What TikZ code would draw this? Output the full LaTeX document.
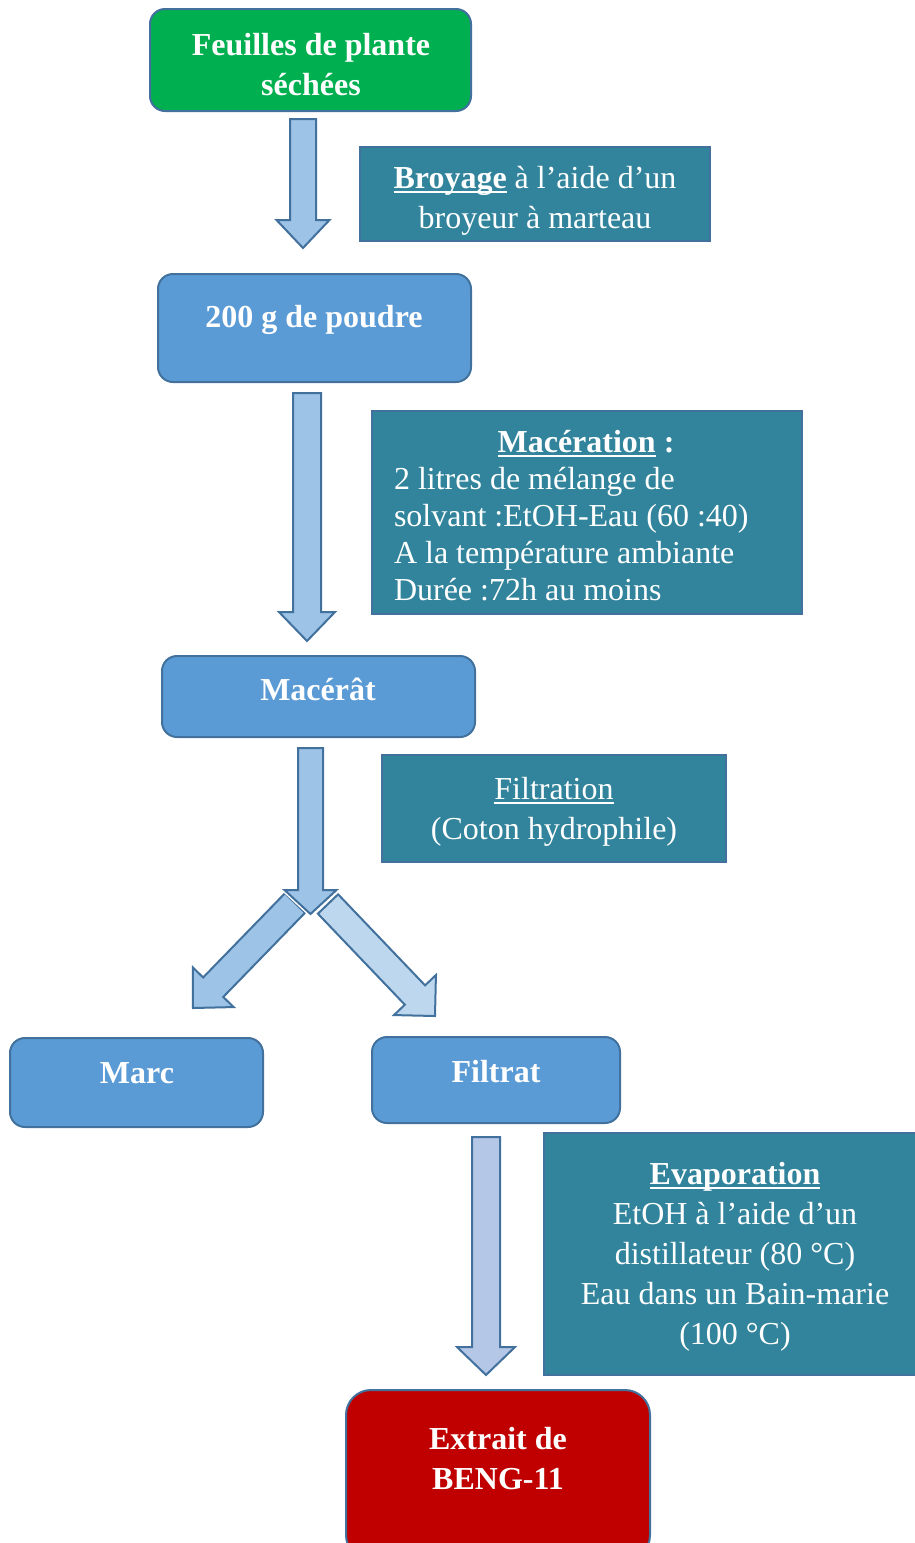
\documentclass[tikz,border=0pt]{standalone}
\usepackage{fontspec}
\setmainfont{Liberation Serif}
\usetikzlibrary{calc}
\definecolor{cgreen}{HTML}{00B050}
\definecolor{cborder}{HTML}{41719C}
\definecolor{cblue}{HTML}{5B9BD5}
\definecolor{cteal}{HTML}{31849B}
\definecolor{carrow}{HTML}{9DC3E6}
\definecolor{carrowlight}{HTML}{BDD7EE}
\definecolor{carrowlast}{HTML}{B4C7E7}
\definecolor{cred}{HTML}{C00000}
\newsavebox\ulbox
\newcommand\myul[1]{\sbox\ulbox{#1}\rlap{\rule[-4.5pt]{\wd\ulbox}{1.8pt}}\usebox\ulbox}
% #1 tail, #2 tip, #3 shaft half width, #4 head half width, #5 head length, #6 fill
\newcommand\blockarrow[6]{%
  \coordinate (#1-h) at ($(#2)!#5pt!(#1)$);
  \draw[arrowline, fill=#6]
    ($(#1)!#3pt!90:(#2)$) -- ($(#1-h)!#3pt!90:(#2)$) -- ($(#1-h)!#4pt!90:(#2)$)
    -- (#2) -- ($(#1-h)!#4pt!-90:(#2)$) -- ($(#1-h)!#3pt!-90:(#2)$)
    -- ($(#1)!#3pt!-90:(#2)$) -- cycle;}
\begin{document}
\begin{tikzpicture}[x=1pt,y=-1pt,
  boxbase/.style={draw=cborder, line width=2pt, inner sep=0pt, outer sep=0pt},
  rbox/.style={boxbase, rounded corners=15pt},
  sbox/.style={boxbase, fill=cteal},
  txt/.style={text=white, font=\fontsize{32}{40}\selectfont, align=center, anchor=base, inner sep=0pt, outer sep=0pt},
  arrowline/.style={draw=cborder, line width=2pt, line join=miter,
    preaction={draw=white, line width=5pt}}]
\useasboundingbox (0,0) rectangle (915,1543);

% boxes
\node[rbox, fill=cgreen, minimum width=321pt, minimum height=102pt] (feu) at (310.5,60) {};
\node[sbox, minimum width=350pt, minimum height=94pt] (broy) at (535,194) {};
\node[rbox, fill=cblue, minimum width=313pt, minimum height=108pt] (pdr) at (314.5,328) {};
\node[sbox, minimum width=430pt, minimum height=203pt] (mac) at (587,512.5) {};
\node[rbox, fill=cblue, minimum width=313pt, minimum height=81pt] (mct) at (318.5,696.5) {};
\node[sbox, minimum width=344pt, minimum height=107pt] (filt) at (554,808.5) {};
\node[rbox, fill=cblue, minimum width=253pt, minimum height=89pt] (marc) at (136.5,1082.5) {};
\node[rbox, fill=cblue, minimum width=248pt, minimum height=86pt] (ftr) at (496,1080) {};
\node[sbox, minimum width=380pt, minimum height=242pt] (evap) at (734,1254) {};
\node[boxbase, rounded corners=25pt, fill=cred, minimum width=304pt, minimum height=170pt] (ext) at (498,1475) {};

% texts (anchor=base = baseline of the last line)
\node[txt, font=\fontsize{32}{40}\selectfont\bfseries] (tfeu) at (311,95) {Feuilles de plante\\séchées};
\node[txt] (tbroy) at (535,228) {\myul{\textbf{Broyage}} à l’aide d’un\\broyeur à marteau};
\node[txt, font=\fontsize{32}{40}\selectfont\bfseries] (tpdr) at (314,327) {200 g de poudre};
\node[txt] (tmac) at (586,452) {\textbf{\myul{Macération} :}};
\node[txt, align=left, anchor=base west, font=\fontsize{32}{37}\selectfont] (tmacb) at (394,600) {2 litres de mélange de\\solvant :EtOH-Eau (60 :40)\\A la température ambiante\\Durée :72h au moins};
\node[txt, font=\fontsize{32}{40}\selectfont\bfseries] (tmct) at (318,700) {Macérât};
\node[txt] (tfilt) at (554,839) {\myul{Filtration}\\(Coton hydrophile)};
\node[txt, font=\fontsize{32}{40}\selectfont\bfseries] (tmarc) at (137,1083) {Marc};
\node[txt, font=\fontsize{32}{40}\selectfont\bfseries] (tftr) at (496,1082) {Filtrat};
\node[txt] (tevap) at (735,1344) {\myul{\textbf{Evaporation}}\\EtOH à l’aide d’un\\distillateur (80 °C)\\Eau dans un Bain-marie\\(100 °C)};
\node[txt, font=\fontsize{32}{40}\selectfont\bfseries] (text) at (498,1489) {Extrait de\\BENG-11};

% arrow end points
\coordinate (a1s) at (303,119);   \coordinate (a1e) at (303,248);
\coordinate (a2s) at (307,393);   \coordinate (a2e) at (307,641);
\coordinate (a3s) at (310.5,748); \coordinate (a3e) at (310.5,914);
\coordinate (a4s) at (295,903);   \coordinate (a4e) at (193,1008);
\coordinate (a5s) at (328,904);   \coordinate (a5e) at (435,1016);
\coordinate (a6s) at (486,1137);  \coordinate (a6e) at (486,1375);

\blockarrow{a1s}{a1e}{13}{26.5}{28}{carrow}
\blockarrow{a2s}{a2e}{14}{28}{29}{carrow}
\blockarrow{a4s}{a4e}{14}{28.5}{29}{carrow}
\blockarrow{a5s}{a5e}{14}{29}{29}{carrowlight}
\blockarrow{a3s}{a3e}{12.5}{26}{24}{carrow}
\blockarrow{a6s}{a6e}{14}{29}{28}{carrowlast}
\end{tikzpicture}
\end{document}
